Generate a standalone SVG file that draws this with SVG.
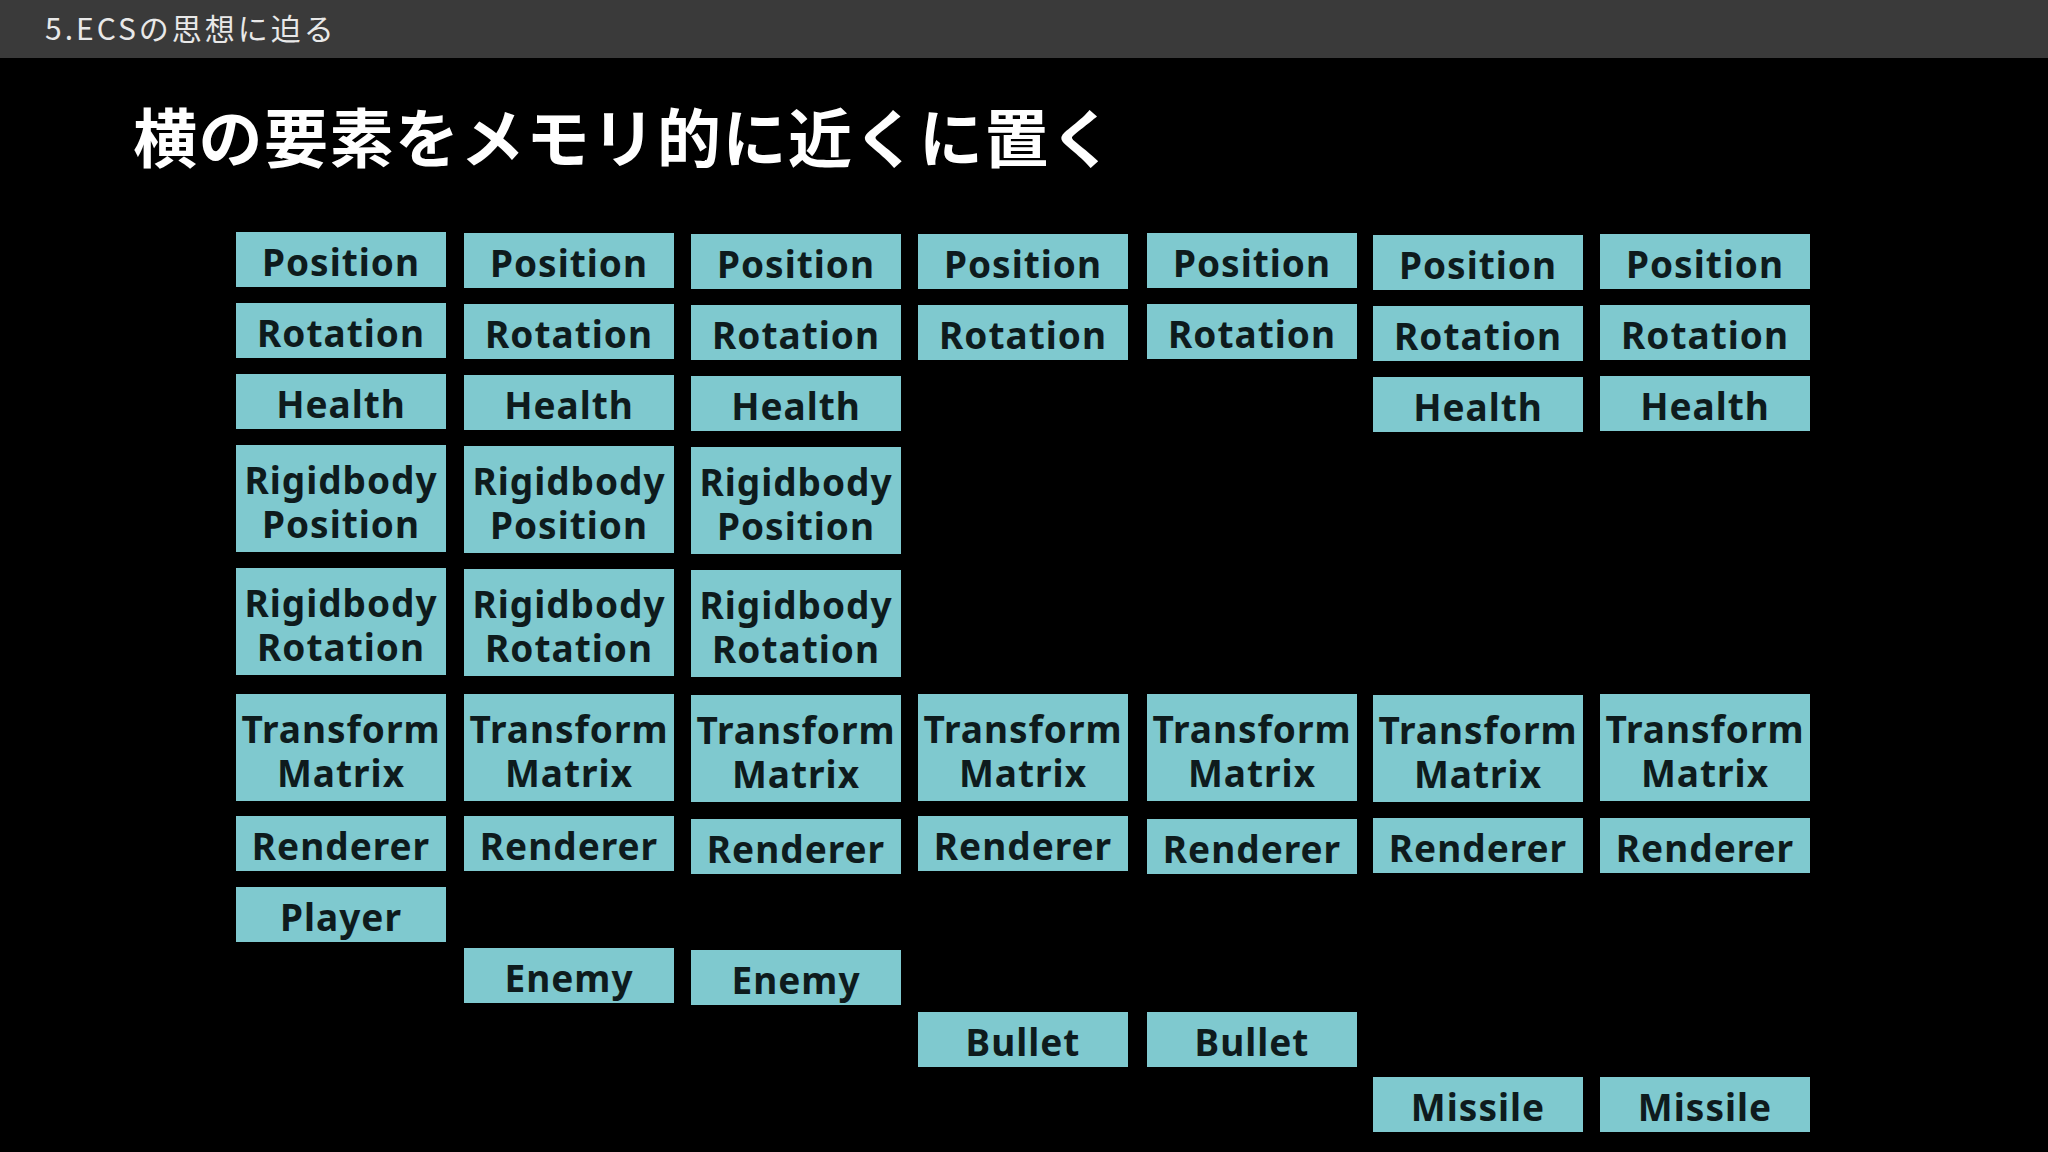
<svg xmlns="http://www.w3.org/2000/svg" width="2048" height="1152" viewBox="0 0 2048 1152">
<style>
.b{fill:#7fc9cf}
.t{font-family:"Noto Sans",sans-serif;font-weight:bold;font-size:37px;fill:#0e1b1d;text-anchor:middle;letter-spacing:1px}
</style>
<rect width="2048" height="1152" fill="#000"/>
<rect width="2048" height="58" fill="#3a3a3a"/>
<text x="45" y="40" font-family="Noto Sans CJK JP,sans-serif" font-size="30" fill="#e8e8e8" letter-spacing="3">5.ECSの思想に迫る</text>
<text x="133" y="162" font-family="Noto Sans CJK JP,sans-serif" font-weight="bold" font-size="64" fill="#fff" letter-spacing="1.5">横の要素をメモリ的に近くに置く</text>
<g id="nodes" transform="translate(0,3)">
<g id="c1">
<rect class="b" x="236" y="229" width="210" height="55"/><text class="t" x="341" y="273">Position</text>
<rect class="b" x="236" y="300" width="210" height="55"/><text class="t" x="341" y="344">Rotation</text>
<rect class="b" x="236" y="371" width="210" height="55"/><text class="t" x="341" y="415">Health</text>
<rect class="b" x="236" y="442" width="210" height="107"/><text class="t" x="341" y="491">Rigidbody</text><text class="t" x="341" y="535">Position</text>
<rect class="b" x="236" y="565" width="210" height="107"/><text class="t" x="341" y="614">Rigidbody</text><text class="t" x="341" y="658">Rotation</text>
<rect class="b" x="236" y="691" width="210" height="107"/><text class="t" x="341" y="740">Transform</text><text class="t" x="341" y="784">Matrix</text>
<rect class="b" x="236" y="813" width="210" height="55"/><text class="t" x="341" y="857">Renderer</text>
<rect class="b" x="236" y="884" width="210" height="55"/><text class="t" x="341" y="928">Player</text>
</g>
<g id="c2">
<rect class="b" x="464" y="230" width="210" height="55"/><text class="t" x="569" y="274">Position</text>
<rect class="b" x="464" y="301" width="210" height="55"/><text class="t" x="569" y="345">Rotation</text>
<rect class="b" x="464" y="372" width="210" height="55"/><text class="t" x="569" y="416">Health</text>
<rect class="b" x="464" y="443" width="210" height="107"/><text class="t" x="569" y="492">Rigidbody</text><text class="t" x="569" y="536">Position</text>
<rect class="b" x="464" y="566" width="210" height="107"/><text class="t" x="569" y="615">Rigidbody</text><text class="t" x="569" y="659">Rotation</text>
<rect class="b" x="464" y="691" width="210" height="107"/><text class="t" x="569" y="740">Transform</text><text class="t" x="569" y="784">Matrix</text>
<rect class="b" x="464" y="813" width="210" height="55"/><text class="t" x="569" y="857">Renderer</text>
<rect class="b" x="464" y="945" width="210" height="55"/><text class="t" x="569" y="989">Enemy</text>
</g>
<g id="c3">
<rect class="b" x="691" y="231" width="210" height="55"/><text class="t" x="796" y="275">Position</text>
<rect class="b" x="691" y="302" width="210" height="55"/><text class="t" x="796" y="346">Rotation</text>
<rect class="b" x="691" y="373" width="210" height="55"/><text class="t" x="796" y="417">Health</text>
<rect class="b" x="691" y="444" width="210" height="107"/><text class="t" x="796" y="493">Rigidbody</text><text class="t" x="796" y="537">Position</text>
<rect class="b" x="691" y="567" width="210" height="107"/><text class="t" x="796" y="616">Rigidbody</text><text class="t" x="796" y="660">Rotation</text>
<rect class="b" x="691" y="692" width="210" height="107"/><text class="t" x="796" y="741">Transform</text><text class="t" x="796" y="785">Matrix</text>
<rect class="b" x="691" y="816" width="210" height="55"/><text class="t" x="796" y="860">Renderer</text>
<rect class="b" x="691" y="947" width="210" height="55"/><text class="t" x="796" y="991">Enemy</text>
</g>
<g id="c4">
<rect class="b" x="918" y="231" width="210" height="55"/><text class="t" x="1023" y="275">Position</text>
<rect class="b" x="918" y="302" width="210" height="55"/><text class="t" x="1023" y="346">Rotation</text>
<rect class="b" x="918" y="691" width="210" height="107"/><text class="t" x="1023" y="740">Transform</text><text class="t" x="1023" y="784">Matrix</text>
<rect class="b" x="918" y="813" width="210" height="55"/><text class="t" x="1023" y="857">Renderer</text>
<rect class="b" x="918" y="1009" width="210" height="55"/><text class="t" x="1023" y="1053">Bullet</text>
</g>
<g id="c5">
<rect class="b" x="1147" y="230" width="210" height="55"/><text class="t" x="1252" y="274">Position</text>
<rect class="b" x="1147" y="301" width="210" height="55"/><text class="t" x="1252" y="345">Rotation</text>
<rect class="b" x="1147" y="691" width="210" height="107"/><text class="t" x="1252" y="740">Transform</text><text class="t" x="1252" y="784">Matrix</text>
<rect class="b" x="1147" y="816" width="210" height="55"/><text class="t" x="1252" y="860">Renderer</text>
<rect class="b" x="1147" y="1009" width="210" height="55"/><text class="t" x="1252" y="1053">Bullet</text>
</g>
<g id="c6">
<rect class="b" x="1373" y="232" width="210" height="55"/><text class="t" x="1478" y="276">Position</text>
<rect class="b" x="1373" y="303" width="210" height="55"/><text class="t" x="1478" y="347">Rotation</text>
<rect class="b" x="1373" y="374" width="210" height="55"/><text class="t" x="1478" y="418">Health</text>
<rect class="b" x="1373" y="692" width="210" height="107"/><text class="t" x="1478" y="741">Transform</text><text class="t" x="1478" y="785">Matrix</text>
<rect class="b" x="1373" y="815" width="210" height="55"/><text class="t" x="1478" y="859">Renderer</text>
<rect class="b" x="1373" y="1074" width="210" height="55"/><text class="t" x="1478" y="1118">Missile</text>
</g>
<g id="c7">
<rect class="b" x="1600" y="231" width="210" height="55"/><text class="t" x="1705" y="275">Position</text>
<rect class="b" x="1600" y="302" width="210" height="55"/><text class="t" x="1705" y="346">Rotation</text>
<rect class="b" x="1600" y="373" width="210" height="55"/><text class="t" x="1705" y="417">Health</text>
<rect class="b" x="1600" y="691" width="210" height="107"/><text class="t" x="1705" y="740">Transform</text><text class="t" x="1705" y="784">Matrix</text>
<rect class="b" x="1600" y="815" width="210" height="55"/><text class="t" x="1705" y="859">Renderer</text>
<rect class="b" x="1600" y="1074" width="210" height="55"/><text class="t" x="1705" y="1118">Missile</text>
</g>
</g>
<g id="connectors"/>
</svg>
